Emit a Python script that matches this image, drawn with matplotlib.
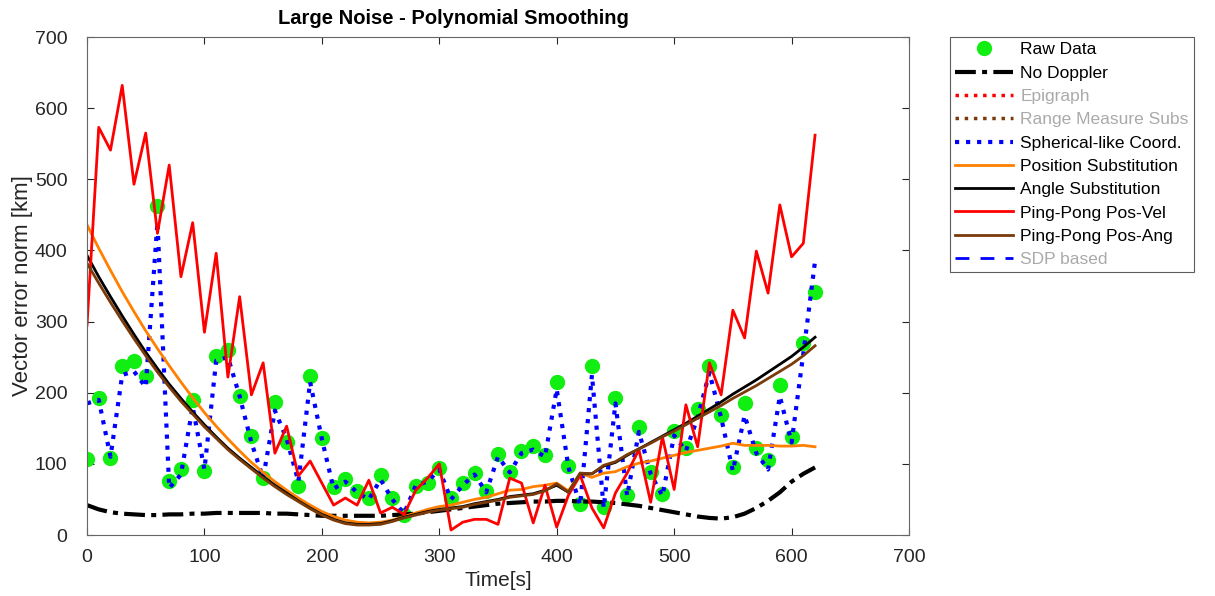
import matplotlib
matplotlib.use("Agg")
import matplotlib.pyplot as plt
import numpy as np

plt.rcParams['font.family'] = ['Liberation Sans', 'DejaVu Sans']

# time axis [s]
t = np.arange(0, 630, 10)

raw_data = [107, 193, 108, 238, 245, 223, 462, 76, 93, 190,
            90, 252, 260, 195, 139, 80, 187, 131, 69, 224,
            136, 67, 79, 62, 52, 84, 52, 28, 69, 73,
            94, 52, 73, 87, 62, 114, 89, 118, 125, 112,
            215, 97, 44, 238, 39, 193, 56, 152, 89, 57,
            146, 122, 177, 238, 169, 96, 186, 122, 105, 211,
            138, 270, 342]

no_doppler = [42, 36, 32, 30, 29, 28, 28, 29, 29, 30,
              30, 31, 31, 31, 31, 31, 30, 30, 29, 28,
              27, 27, 27, 27, 27, 27, 28, 29, 30, 32,
              34, 36, 38, 40, 42, 44, 45, 46, 47, 47,
              48, 48, 47, 47, 46, 45, 43, 41, 38, 35,
              32, 29, 26, 24, 23, 25, 30, 38, 48, 60,
              75, 86, 95]

spherical = [185, 190, 110, 225, 230, 208, 440, 66, 85, 180,
             92, 245, 250, 195, 130, 80, 175, 135, 75, 215,
             135, 65, 75, 60, 50, 78, 50, 30, 70, 75,
             92, 50, 70, 85, 60, 110, 88, 115, 120, 110,
             205, 95, 42, 225, 38, 185, 55, 145, 86, 55,
             140, 118, 165, 228, 165, 90, 168, 115, 92, 195,
             130, 255, 385]

position_subs = [436, 403, 372, 342, 314, 287, 262, 238, 215, 193,
                 172, 153, 135, 118, 102, 88, 75, 63, 52, 42,
                 33, 26, 21, 18, 17, 18, 21, 26, 31, 36,
                 40, 42, 46, 50, 53, 58, 63, 64, 68, 70,
                 73, 62, 87, 81, 87, 89, 96, 101, 104, 108,
                 112, 116, 119, 122, 125, 129, 126, 126, 126, 125,
                 125, 126, 124]

angle_subs = [393, 363, 335, 308, 282, 257, 234, 212, 192, 173,
              155, 138, 122, 108, 95, 82, 70, 59, 48, 38,
              29, 22, 17, 15, 15, 16, 20, 25, 29, 33,
              36, 38, 40, 44, 47, 50, 54, 56, 58, 63,
              70, 60, 86, 86, 97, 102, 112, 121, 130, 139,
              148, 157, 167, 177, 187, 198, 208, 218, 229, 240,
              251, 264, 278]

pingpong_vel = [295, 573, 541, 632, 493, 565, 424, 520, 363, 439,
                285, 396, 222, 335, 197, 242, 115, 153, 83, 104,
                73, 42, 52, 42, 77, 31, 39, 29, 63, 80,
                100, 7, 18, 22, 22, 15, 80, 73, 17, 70,
                11, 56, 84, 38, 10, 59, 87, 120, 46, 138,
                64, 183, 124, 242, 197, 316, 277, 399, 340, 464,
                391, 410, 562]

pingpong_ang = [382, 354, 327, 301, 276, 252, 229, 208, 188, 170,
                152, 136, 120, 106, 93, 80, 68, 57, 47, 37,
                28, 21, 16, 14, 14, 15, 19, 24, 28, 32,
                35, 37, 39, 43, 46, 49, 53, 55, 57, 62,
                72, 60, 87, 86, 98, 103, 113, 121, 129, 138,
                146, 155, 164, 173, 182, 192, 201, 210, 220, 230,
                240, 252, 266]

GREEN = '#11ee11'
ORANGE = '#ff8000'
BROWN = '#7a3a0a'

fig = plt.figure(figsize=(12.15, 5.96), dpi=100)
ax = fig.add_axes([87 / 1215, 1 - 535 / 596, (909 - 87) / 1215, (535 - 37) / 596])

h_raw, = ax.plot(t, raw_data, 'o', color=GREEN, markersize=10, label='Raw Data')
h_nod, = ax.plot(t, no_doppler, color='black', linestyle=(0, (5, 1.5, 1.2, 1.5)),
                 linewidth=3, label='No Doppler')
h_epi, = ax.plot([], [], color='red', linestyle=':', linewidth=2.5, label='Epigraph')
h_rng, = ax.plot([], [], color=BROWN, linestyle=':', linewidth=2.5, label='Range Measure Subs')
h_sph, = ax.plot(t, spherical, color='blue', linestyle=':', linewidth=3,
                 label='Spherical-like Coord.')
h_pos, = ax.plot(t, position_subs, color=ORANGE, linewidth=2, label='Position Substitution')
h_ang, = ax.plot(t, angle_subs, color='black', linewidth=2, label='Angle Substitution')
h_ppv, = ax.plot(t, pingpong_vel, color='red', linewidth=2, label='Ping-Pong Pos-Vel')
h_ppa, = ax.plot(t, pingpong_ang, color=BROWN, linewidth=2, label='Ping-Pong Pos-Ang')
h_sdp, = ax.plot([], [], color='blue', linestyle=(0, (5, 4)), linewidth=2, label='SDP based')

ax.set_xlim(0, 700)
ax.set_ylim(0, 700)
ax.set_xticks(np.arange(0, 701, 100))
ax.set_yticks(np.arange(0, 701, 100))
ax.tick_params(direction='in', top=True, right=True, length=5, labelsize=14,
               colors='#262626', width=0.8)
ax.tick_params(axis='y', pad=14)
ax.tick_params(axis='x', pad=10)
for s in ax.spines.values():
    s.set_color('#666666')
    s.set_linewidth(0.8)

ax.set_xlabel('Time[s]', fontsize=15, color='#262626', labelpad=4)
ax.set_ylabel('Vector error norm [km]', fontsize=16, color='#262626', labelpad=1)
ax.set_title('Large Noise - Polynomial Smoothing', fontsize=14.5, fontweight='bold',
             x=(453 - 87) / (909 - 87), pad=9)

leg = fig.legend(handles=[h_raw, h_nod, h_epi, h_rng, h_sph, h_pos, h_ang, h_ppv, h_ppa, h_sdp],
                 loc='upper left', bbox_to_anchor=(950 / 1215, 1 - 37 / 596),
                 fontsize=12.5, frameon=True, fancybox=False, handlelength=3.3,
                 handletextpad=0.45, labelspacing=0.47, borderpad=0.3, borderaxespad=0)
leg.get_frame().set_edgecolor('#333333')
leg.get_frame().set_linewidth(0.8)
for txt, hidden in zip(leg.get_texts(), [0, 0, 1, 1, 0, 0, 0, 0, 0, 1]):
    txt.set_color('#aaaaaa' if hidden else 'black')

fig.savefig('out.png', dpi=100, facecolor='white')
